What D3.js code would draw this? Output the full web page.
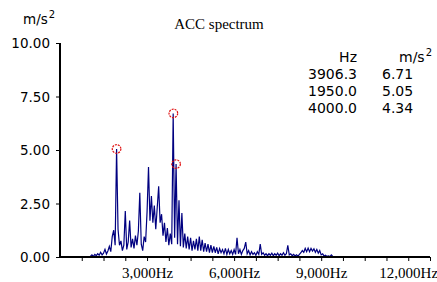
<!DOCTYPE html>
<html>
<head>
<meta charset="utf-8">
<script src="https://cdn.jsdelivr.net/npm/d3@7"></script>
<style>
  body { margin: 0; background: #fff; }
  svg { display: block; }
</style>
</head>
<body>
<div class="vis"></div>
<script>
// Width and height
var w = 437;
var h = 282;

// plot area edges (pixels)
margin = ({top: 43, right: 7, bottom: 25, left: 60});

// spectrum: first bin, bin width (Hz), then amplitudes (m/s2)
var specStart = 1000;
var specStep = 50;
var specAmp = [
  0.00, 0.04, 0.10, 0.03, 0.12, 0.06, 0.15, 0.08, 0.22, 0.10, 0.18, 0.36, 0.14, 0.28, 0.50, 0.25, 0.95, 1.25, 0.55, 5.05,
  1.30, 0.55, 0.75, 0.30, 0.55, 2.15, 0.35, 0.70, 1.70, 0.45, 0.85, 0.40, 1.00, 0.55, 1.20, 3.00, 0.60, 0.30, 0.95, 0.70,
  2.10, 4.20, 1.70, 2.85, 1.60, 2.40, 1.30, 2.30, 3.30, 1.60, 2.00, 1.00, 1.60, 0.70, 1.35, 0.55, 1.10, 0.60, 6.71, 0.90,
  4.34, 0.60, 2.65, 0.50, 2.05, 0.45, 1.10, 0.40, 0.95, 0.35, 0.90, 0.30, 0.75, 0.35, 0.85, 0.30, 0.95, 0.30, 0.80, 0.25,
  0.65, 0.25, 0.60, 0.20, 0.55, 0.20, 0.50, 0.20, 0.45, 0.15, 0.40, 0.20, 0.35, 0.15, 0.40, 0.12, 0.35, 0.15, 0.30, 0.12,
  0.35, 0.12, 0.90, 0.15, 0.35, 0.12, 0.30, 0.40, 0.70, 0.15, 0.30, 0.10, 0.25, 0.12, 0.20, 0.08, 0.25, 0.12, 0.60, 0.12,
  0.20, 0.08, 0.15, 0.06, 0.15, 0.08, 0.18, 0.06, 0.15, 0.08, 0.18, 0.06, 0.15, 0.08, 0.20, 0.08, 0.15, 0.55, 0.10, 0.15,
  0.06, 0.12, 0.05, 0.10, 0.04, 0.12, 0.20, 0.30, 0.22, 0.40, 0.25, 0.42, 0.25, 0.40, 0.28, 0.38, 0.22, 0.35, 0.18, 0.30,
  0.10, 0.15, 0.05, 0.08, 0.03, 0.05, 0.02, 0.10, 0.03, 0.02, 0.01, 0.00
];

// marked peaks (table in the top right)
var peakHz = [3906.3, 1950.0, 4000.0];
var peakAmp = [6.71, 5.05, 4.34];

// axis ticks
var yTicks = [0, 2.5, 5, 7.5, 10];
var xLabelTicks = [3000, 6000, 9000, 12000];
var xMinorStep = 750;
var xMax = 12750;

var sansFont = "'DejaVu Sans', Verdana, sans-serif";
var serifFont = "'Liberation Serif', 'Times New Roman', serif";

var spectrum = specAmp.map(function(d, i) {
    return {hz: specStart + i * specStep, amp: d};
});

var svg = d3.select(".vis")
    .append("svg")
    .attr("width", w)
    .attr("height", h);

var xScale = d3.scaleLinear()
    .domain([0, xMax])
    .range([margin.left, w - margin.right]);

var yScale = d3.scaleLinear()
    .domain([0, 10])
    .range([h - margin.bottom, margin.top]);

// spectrum line
var line = d3.line()
    .x(function(d) { return xScale(d.hz); })
    .y(function(d) { return yScale(d.amp); });

svg.append("path")
    .datum(spectrum)
    .attr("fill", "none")
    .attr("stroke", "#000080")
    .attr("stroke-width", 1.2)
    .attr("d", line);

// peak markers
svg.selectAll("circle.peak")
    .data(peakHz)
    .enter()
    .append("circle")
    .attr("class", "peak")
    .attr("cx", function(d) { return xScale(d); })
    .attr("cy", function(d, i) { return yScale(peakAmp[i]); })
    .attr("r", 4.3)
    .attr("fill", "none")
    .attr("stroke", "#e01010")
    .attr("stroke-width", 1.2)
    .attr("stroke-dasharray", "2,1");

// y axis
var yAxis = d3.axisLeft(yScale)
    .tickValues(yTicks)
    .tickSize(4)
    .tickFormat(d3.format(".2f"));

var gy = svg.append("g")
    .attr("transform", "translate(" + margin.left + ",0)")
    .call(yAxis);
gy.select(".domain").attr("stroke-width", 2).attr("d", "M0," + yScale(10) + "V" + yScale(0));
gy.selectAll("text")
    .attr("x", -10)
    .attr("dy", "0.35em")
    .style("font-family", sansFont)
    .style("font-size", "13.5px")
    .attr("fill", "#000");

// x axis
var xAxis = d3.axisBottom(xScale)
    .tickValues(d3.range(xMinorStep, xMax + 1, xMinorStep))
    .tickSize(4)
    .tickFormat(function(d) {
        return xLabelTicks.indexOf(d) >= 0 ? d3.format(",")(d) + "Hz" : "";
    });

var gx = svg.append("g")
    .attr("transform", "translate(0," + yScale(0) + ")")
    .call(xAxis);
gx.select(".domain").attr("stroke-width", 2).attr("d", "M" + (margin.left - 1) + ",0H" + (w - margin.right));
gx.selectAll("text")
    .attr("y", 21)
    .attr("dy", 0)
    .style("font-family", serifFont)
    .style("font-size", "15px")
    .attr("fill", "#000");

// unit label
var unit = svg.append("text")
    .attr("x", 23)
    .attr("y", 24)
    .style("font-family", sansFont)
    .style("font-size", "13.5px");
unit.append("tspan").text("m/s");
unit.append("tspan").attr("dy", -6).style("font-size", "10px").attr("dx", 1).text("2");

// title
svg.append("text")
    .attr("x", 219)
    .attr("y", 29)
    .attr("text-anchor", "middle")
    .style("font-family", serifFont)
    .style("font-size", "15px")
    .text("ACC spectrum");

// peak table
var tableX = 357;
var valueX = 382;
svg.append("text")
    .attr("x", tableX).attr("y", 62)
    .attr("text-anchor", "end")
    .style("font-family", sansFont).style("font-size", "14px")
    .text("Hz");
var tunit = svg.append("text")
    .attr("x", 399).attr("y", 62)
    .style("font-family", sansFont).style("font-size", "14px");
tunit.append("tspan").text("m/s");
tunit.append("tspan").attr("dy", -6).attr("dx", 1).style("font-size", "10px").text("2");

peakHz.forEach(function(d, i) {
    svg.append("text")
        .attr("x", tableX).attr("y", 79 + i * 17)
        .attr("text-anchor", "end")
        .style("font-family", sansFont).style("font-size", "14px")
        .text(d.toFixed(1));
    svg.append("text")
        .attr("x", valueX).attr("y", 79 + i * 17)
        .style("font-family", sansFont).style("font-size", "14px")
        .text(peakAmp[i].toFixed(2));
});
</script>
</body>
</html>
